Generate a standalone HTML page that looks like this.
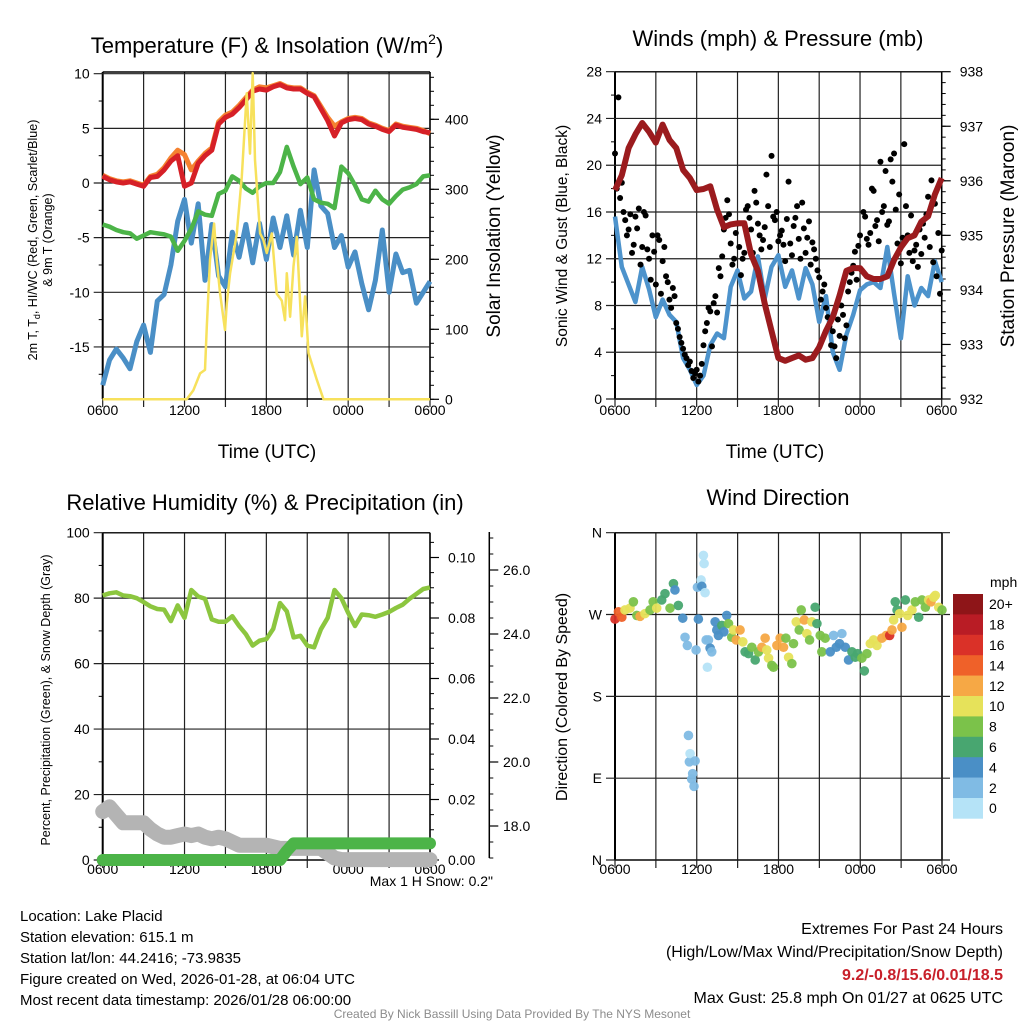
<!DOCTYPE html>
<html><head><meta charset="utf-8"><style>
html,body{margin:0;padding:0;background:#fff;}
svg{display:block;font-family:"Liberation Sans",Arial,sans-serif;}
</style></head><body>
<svg id="chart" xmlns="http://www.w3.org/2000/svg" width="1024" height="1024" viewBox="0 0 1024 1024">
<rect x="0" y="0" width="1024" height="1024" fill="#fff"/>
<g id="texts" fill="#000">
<text x="267" y="53" font-size="22" text-anchor="middle">Temperature (F) &amp; Insolation (W/m<tspan dy="-9" font-size="14">2</tspan><tspan dy="9">)</tspan></text>
<text x="778" y="46" font-size="22" text-anchor="middle">Winds (mph) &amp; Pressure (mb)</text>
<text x="265" y="510" font-size="22" text-anchor="middle">Relative Humidity (%) &amp; Precipitation (in)</text>
<text x="778" y="505" font-size="22" text-anchor="middle">Wind Direction</text>
<text x="267" y="458" font-size="19" text-anchor="middle">Time (UTC)</text>
<text x="775" y="458" font-size="19" text-anchor="middle">Time (UTC)</text>
<text x="37" y="240" font-size="12.5" text-anchor="middle" transform="rotate(-90 37 240)">2m T, T<tspan dy="3" font-size="9">d</tspan><tspan dy="-3">, HI/WC (Red, Green, Scarlet/Blue)</tspan></text>
<text x="52" y="240" font-size="12.5" text-anchor="middle" transform="rotate(-90 52 240)">&amp; 9m T (Orange)</text>
<text x="500" y="236" font-size="19" text-anchor="middle" transform="rotate(-90 500 236)">Solar Insolation (Yellow)</text>
<text x="567" y="236" font-size="15.5" text-anchor="middle" transform="rotate(-90 567 236)">Sonic Wind &amp; Gust (Blue, Black)</text>
<text x="1014" y="236" font-size="19" text-anchor="middle" transform="rotate(-90 1014 236)">Station Pressure (Maroon)</text>
<text x="50" y="700" font-size="12.5" text-anchor="middle" transform="rotate(-90 50 700)">Percent, Precipitation (Green), &amp; Snow Depth (Gray)</text>
<text x="567" y="697" font-size="16" text-anchor="middle" transform="rotate(-90 567 697)">Direction (Colored By Speed)</text>
<text x="493" y="886" font-size="14" text-anchor="end">Max 1 H Snow: 0.2"</text>
<g font-size="15">
<text x="20" y="921">Location: Lake Placid</text>
<text x="20" y="942">Station elevation: 615.1 m</text>
<text x="20" y="963">Station lat/lon: 44.2416; -73.9835</text>
<text x="20" y="984">Figure created on Wed, 2026-01-28, at 06:04 UTC</text>
<text x="20" y="1005">Most recent data timestamp: 2026/01/28 06:00:00</text>
</g>
<g font-size="16" text-anchor="end">
<text x="1003" y="934">Extremes For Past 24 Hours</text>
<text x="1003" y="957">(High/Low/Max Wind/Precipitation/Snow Depth)</text>
<text x="1003" y="980" fill="#c8202a" font-weight="bold">9.2/-0.8/15.6/0.01/18.5</text>
<text x="1003" y="1003">Max Gust: 25.8 mph On 01/27 at 0625 UTC</text>
</g>
<text x="512" y="1018" font-size="12" fill="#8c8c8c" text-anchor="middle">Created By Nick Bassill Using Data Provided By The NYS Mesonet</text>
<text x="990" y="587" font-size="14">mph</text>
</g>
</svg>
<script>
// ---- data (half-hour steps from 0600 UTC unless noted) ----
const timeLabels = ["0600","1200","1800","0000","0600"];
const tempRed = [0.6,0.3,0.1,0.0,0.1,-0.1,-0.3,0.5,0.6,1.2,2.0,2.5,-0.3,0.0,1.8,2.5,3.0,5.4,6.0,6.3,6.9,7.6,8.4,8.6,8.5,8.8,9.0,8.7,8.6,8.6,8.2,7.9,6.8,5.7,4.3,5.5,5.8,5.9,5.8,5.4,5.2,4.9,4.7,5.3,5.1,5.0,4.9,4.7,4.6];
const temp9m = [0.7,0.4,0.2,0.1,0.2,0.0,-0.2,0.6,0.8,1.4,2.3,3.0,2.6,1.2,2.0,2.7,3.2,5.6,6.2,6.5,7.1,7.8,8.5,8.8,8.7,8.9,9.1,8.8,8.7,8.7,8.3,8.0,7.0,6.0,5.2,5.6,5.9,6.0,5.9,5.5,5.3,5.0,4.8,5.4,5.2,5.1,5.0,4.8,4.5];
const dewGreen = [-3.8,-4.0,-4.3,-4.5,-4.6,-5.1,-4.8,-4.5,-4.6,-4.7,-4.9,-6.2,-5.3,-4.2,-2.6,-2.9,-3.0,-1.0,-0.7,0.6,0.2,-0.5,-0.9,-0.3,0.0,0.0,1.0,3.3,1.5,-0.1,0.5,-1.5,-1.8,-1.9,-2.3,1.5,0.9,-0.2,-1.5,-1.7,-0.7,-1.5,-1.9,-1.2,-0.6,-0.4,-0.1,0.6,0.7];
const windChill = [-18.5,-16.2,-15.2,-16.0,-17.0,-14.5,-13.0,-15.5,-10.8,-10.2,-7.5,-3.5,-1.5,-5.5,-1.9,-8.9,-3.8,-8.5,-9.5,-4.5,-6.8,-3.8,-7.3,-3.7,-7.0,-3.2,-5.9,-3.0,-6.6,-2.5,-5.9,1.2,-2.1,-2.8,-5.9,-4.8,-7.7,-6.3,-9.2,-11.6,-8.9,-4.3,-10.0,-6.5,-8.2,-8.0,-11.0,-10.0,-9.0];
const insolTime = [0,6.16,6.65,7.14,7.5,7.63,7.87,8.17,8.36,8.61,8.97,9.1,9.34,9.83,10.2,10.56,10.8,11.0,11.17,11.54,11.78,12.03,12.4,12.76,13.13,13.37,13.5,13.74,13.99,14.23,14.6,14.84,15.09,15.7,16.19,24];
const insolValue = [0,0,13,37,42,104,199,251,199,151,99,137,180,237,318,437,351,466,342,237,228,209,237,151,141,113,180,118,190,232,90,147,66,28,0,0];
const pressure = [935.83,936.1,936.6,936.85,937.06,936.9,936.7,937.03,936.75,936.6,936.2,936.05,935.83,935.85,935.9,935.47,935.15,935.2,935.22,935.22,934.65,934.35,933.75,933.25,932.75,932.7,932.75,932.8,932.72,932.75,932.95,933.25,933.5,933.9,934.35,934.4,934.4,934.25,934.2,934.2,934.25,934.55,934.78,934.95,935.0,935.25,935.35,935.75,936.05];
const windSpeed = [15.6,11.3,9.8,8.3,11.3,9.4,7.0,8.5,7.2,6.6,3.5,2.5,1.2,2.0,4.6,5.6,5.2,9.6,11.0,8.6,9.2,12.2,8.6,11.3,12.3,9.6,11.0,8.6,11.2,9.8,6.6,8.8,4.0,2.5,5.5,7.2,9.3,9.8,10.0,9.5,13.0,9.0,5.2,10.5,8.0,9.5,8.8,11.8,10.0];
// gusts at 15-min steps
const gustA = [21.0,25.8,18.5,15.3,14.5,12.5,15.6,16.3,13.0,15.7,12.0,14.0,9.8,13.6,11.8,10.5,8.5,9.5,6.5,5.3,4.3,3.5,3.2,1.8,2.5,2.0,4.6,6.5,7.5,8.2,7.4,10.5,14.5,17.0,13.3,12.0,15.0,10.6,12.5,16.5,14.5,17.8,15.0,12.8,14.7,16.5,20.8,15.3,13.5,14.4,11.8,18.6,12.3,15.5,13.7,16.8,12.5,15.2,13.4,12.0,10.4,9.2,7.8,6.2,5.8,3.5,5.4,7.2,6.3,10.0,11.4,10.2,14.0,16.0,13.7,14.2,17.8,15.3,20.3,16.5,14.9,20.5,21.0,13.3,11.6,21.8,14.0,15.7,12.7,11.3,12.4,13.8,17.3,18.7,16.7,14.2,12.7];
// gusts at 15-min steps offset by 7.5 min
const gustB = [18.0,17.2,16.0,14.0,15.8,13.2,14.6,11.5,16.0,12.8,10.2,12.6,14.0,9.0,13.0,10.0,7.8,8.8,6.0,4.8,3.8,2.9,2.4,2.2,1.5,3.0,5.8,7.8,4.5,8.8,11.2,12.2,15.5,15.8,11.5,14.2,13.0,12.0,16.2,15.5,12.5,16.8,14.0,13.6,19.2,13.0,15.6,16.0,14.0,13.2,15.4,13.3,14.8,16.5,12.0,14.6,13.8,11.5,12.8,11.0,8.5,9.8,7.0,4.6,4.5,6.8,8.0,5.2,9.2,10.8,12.6,13.1,11.0,15.6,13.2,18.0,14.8,13.5,16.0,19.5,15.2,18.6,16.2,17.5,13.8,16.5,12.5,11.8,13.2,14.5,15.0,15.8,13.0,11.7,10.5,9.0];
const relHum = [80.8,81.5,81.8,80.8,80.6,80.0,78.8,77.5,76.7,76.5,73.0,77.8,74.0,82.5,80.5,79.8,73.5,72.8,72.8,74.5,71.5,69.0,65.5,67.0,67.5,70.6,78.5,76.0,68.0,68.5,65.5,65.0,70.5,74.0,82.5,80.0,75.5,71.5,75.0,74.8,74.3,75.0,75.8,77.0,78.0,79.8,81.3,82.8,83.3];
const precip = [0,0,0,0,0,0,0,0,0,0,0,0,0,0,0,0,0,0,0,0,0,0,0,0,0,0,0,0.003,0.0055,0.0055,0.0055,0.0055,0.0055,0.0055,0.0055,0.0055,0.0055,0.0055,0.0055,0.0055,0.0055,0.0055,0.0055,0.0055,0.0055,0.0055,0.0055,0.0055,0.0055];
const snowDepth = [18.45,18.6,18.35,18.1,18.1,18.1,18.1,17.9,17.75,17.65,17.65,17.7,17.75,17.7,17.75,17.65,17.6,17.65,17.6,17.5,17.4,17.4,17.4,17.4,17.4,17.35,17.3,17.3,17.3,17.3,17.3,17.3,17.3,17.15,17.0,16.95,16.95,16.95,16.95,16.95,16.95,16.95,16.95,16.95,16.95,16.95,16.95,16.95,16.95];
// wind direction observations: hours since 0600, degrees, mph
const dirTime = [0,0.25,0.5,0.73,1.1,1.35,1.6,1.84,2.2,2.57,2.8,3.06,3.43,3.67,4.04,4.29,4.4,4.65,4.97,5.14,5.31,5.39,5.46,5.51,5.63,5.7,5.8,5.88,5.95,6.05,6.12,6.32,6.37,6.49,6.54,6.61,6.69,6.78,6.86,6.98,7.1,7.35,7.47,7.59,7.84,7.99,8.2,8.33,8.57,8.7,8.9,9.18,9.38,9.55,9.8,10.04,10.29,10.53,10.78,11.02,11.14,11.27,11.51,11.63,11.88,12.12,12.37,12.54,12.74,12.98,13.1,13.3,13.52,13.67,13.89,14.08,14.28,14.45,14.69,14.82,15.06,15.18,15.43,15.8,16.04,16.24,16.48,16.65,16.9,17.14,17.39,17.63,17.8,18.12,18.3,18.49,18.74,18.98,19.23,19.59,19.91,20.16,20.33,20.45,20.57,20.7,20.89,21.06,21.31,21.48,21.8,22.04,22.29,22.53,22.78,23.02,23.19,23.39,23.51,23.76,24.0];
const dirDeg = [265,273,267,275,277,284,269,268,271,275,284,277,286,293,277,304,297,280,266,245,236,137,108,117,89,95,81,109,231,300,265,308,301,335,326,294,242,212,242,233,229,262,253,247,258,251,269,260,245,253,242,253,240,229,227,234,220,229,234,244,231,222,214,212,236,244,234,244,223,216,238,262,253,275,264,249,242,262,278,260,247,229,244,229,247,234,238,249,234,220,229,223,227,222,208,227,238,242,236,244,247,247,253,264,284,275,271,256,286,269,275,284,267,286,278,286,284,289,291,278,275];
const dirSpeed = [17,15,14,10,10,8,9,12,11,9,8,10,6,7,8,7,5,7,5,2,2,2,2,1,3,3,3,3,2,2,4,1,4,0,1,1,2,1,2,4,3,4,4,4,6,4,5,8,8,10,12,12,10,7,6,8,6,8,12,12,10,10,8,8,12,12,12,8,10,8,8,10,8,8,12,10,8,10,6,6,8,8,8,4,3,4,4,3,4,4,6,6,7,8,7,8,10,10,10,12,12,16,12,10,6,6,10,12,6,10,10,8,6,8,8,10,12,10,10,10,8];
const speedBinLabels = ["20+","18","16","14","12","10","8","6","4","2","0"];
const speedBinColors = ["#8e1518","#b91c25","#da3128","#ef6129","#f6a845","#e6e25a","#7bc24a","#48a670","#4a8fc6","#80bbe4","#b5e3f7"];

const NS = 'http://www.w3.org/2000/svg';
const svg = document.getElementById('chart');
function mk(tag, attrs, name, parent) {
  const el = document.createElementNS(NS, tag);
  for (const k in attrs) el.setAttribute(k, attrs[k]);
  
  
  (parent || svg).appendChild(el);
  return el;
}
function txt(x, y, s, anchor, size, name) {
  const t = mk('text', {x: x, y: y, 'text-anchor': anchor, 'font-size': size, fill: '#000'}, name);
  t.textContent = s;
  return t;
}
function lin(d0, d1, r0, r1) { return v => r0 + (v - d0) / (d1 - d0) * (r1 - r0); }
function pathFrom(ts, vs, fx, fy) {
  return ts.map((t, i) => (i ? 'L' : 'M') + fx(t).toFixed(1) + ' ' + fy(vs[i]).toFixed(1)).join(' ');
}
const halfHours = relHum.map((_, i) => i * 0.5);

function frame(L, R, T, B, key, labOff) {
  const g = mk('g', {}, key + '-grid');
  for (let h = 0; h <= 24; h += 3) {
    const x = lin(0, 24, L, R)(h);
    mk('line', {x1: x, x2: x, y1: T, y2: B + 8, stroke: '#222', 'stroke-width': 1.2}, key + '-vertical-gridline', g);
  }
  timeLabels.forEach((s, i) => txt(lin(0, 24, L, R)(i * 6), B + labOff, s, 'middle', 14, key + '-x-tick-label'));
  mk('line', {x1: L, x2: R, y1: T, y2: T, stroke: '#000', 'stroke-width': 1.5}, key + '-top-border', g);
  mk('line', {x1: L, x2: R, y1: B, y2: B, stroke: '#000', 'stroke-width': 1.5}, key + '-bottom-border', g);
  mk('line', {x1: L, x2: L, y1: T, y2: B, stroke: '#000', 'stroke-width': 2}, key + '-left-axis', g);
  mk('line', {x1: R, x2: R, y1: T, y2: B, stroke: '#000', 'stroke-width': 1.5}, key + '-right-axis', g);
}
function leftAxis(L, R, fy, majors, labels, minorStart, minorEnd, minorStep, key, grid) {
  majors.forEach((v, i) => {
    const y = fy(v);
    mk('line', {x1: L - 9, x2: grid ? R : L, y1: y, y2: y, stroke: '#222', 'stroke-width': 1.2}, key + '-left-major-tick', svg);
    txt(L - 13, y + 5, labels[i], 'end', 14, key + '-left-tick-label');
  });
  for (let v = minorStart; v <= minorEnd + 1e-9; v += minorStep) {
    const y = fy(v);
    mk('line', {x1: L - 4, x2: L, y1: y, y2: y, stroke: '#000', 'stroke-width': 1}, key + '-left-minor-tick', svg);
  }
}
function rightAxis(X, fy, majors, labels, minorStart, minorEnd, minorStep, key, labX) {
  majors.forEach((v, i) => {
    const y = fy(v);
    mk('line', {x1: X, x2: X + 9, y1: y, y2: y, stroke: '#000', 'stroke-width': 1.2}, key + '-right-major-tick', svg);
    txt(labX, y + 5, labels[i], 'start', 14, key + '-right-tick-label');
  });
  for (let v = minorStart; v <= minorEnd + 1e-9; v += minorStep) {
    const y = fy(v);
    mk('line', {x1: X, x2: X + 4, y1: y, y2: y, stroke: '#000', 'stroke-width': 1}, key + '-right-minor-tick', svg);
  }
}

// ---------- Panel 1: temperature ----------
(function () {
  const L = 102.7, R = 430, T = 72, B = 399;
  const fx = lin(0, 24, L, R), fy = lin(0, 10, 183, 73.7), fs = lin(0, 400, 399.3, 119.3);
  frame(L, R, T, B, 'temperature', 16);
  leftAxis(L, R, fy, [10, 5, 0, -5, -10, -15], ['10', '5', '0', '-5', '-10', '-15'], -17.5, 7.5, 5, 'temperature', true);
  rightAxis(R, fs, [0, 100, 200, 300, 400], ['0', '100', '200', '300', '400'], 0, 460, 20, 'insolation', R + 15);
  mk('path', {d: pathFrom(halfHours, windChill, fx, fy), fill: 'none', stroke: '#4a8fc6', 'stroke-width': 5, 'stroke-linejoin': 'round'}, 'wind-chill-line');
  mk('path', {d: pathFrom(halfHours, dewGreen, fx, fy), fill: 'none', stroke: '#4cb448', 'stroke-width': 4.5, 'stroke-linejoin': 'round'}, 'dewpoint-line');
  mk('path', {d: pathFrom(halfHours, temp9m, fx, fy), fill: 'none', stroke: '#f58230', 'stroke-width': 5, 'stroke-linejoin': 'round'}, 'temperature-9m-line');
  mk('path', {d: pathFrom(halfHours, tempRed, fx, fy), fill: 'none', stroke: '#d62027', 'stroke-width': 5, 'stroke-linejoin': 'round'}, 'temperature-2m-line');
  mk('path', {d: pathFrom(insolTime, insolValue, fx, fs), fill: 'none', stroke: '#f7e15c', 'stroke-width': 2.5, 'stroke-linejoin': 'round'}, 'insolation-line');
})();

// ---------- Panel 2: winds & pressure ----------
(function () {
  const L = 615, R = 941.7, T = 71.7, B = 399;
  const fx = lin(0, 24, L, R), fy = lin(0, 28, 399, 71.7), fp = lin(932, 938, 399, 71.7);
  frame(L, R, T, B, 'winds', 16);
  leftAxis(L, R, fy, [0, 4, 8, 12, 16, 20, 24, 28], ['0', '4', '8', '12', '16', '20', '24', '28'], 2, 26, 4, 'winds', true);
  rightAxis(R, fp, [932, 933, 934, 935, 936, 937, 938], ['932', '933', '934', '935', '936', '937', '938'], 932.2, 937.8, 0.2, 'pressure', R + 18);
  mk('path', {d: pathFrom(halfHours, windSpeed, fx, fy), fill: 'none', stroke: '#4d93cc', 'stroke-width': 4.5, 'stroke-linejoin': 'round'}, 'wind-speed-line');
  gustA.forEach((v, i) => {
    const c = mk('circle', {cx: fx(i * 0.25), cy: fy(v), r: 3, fill: '#000'}, 'gust-point');
  });
  gustB.forEach((v, i) => {
    const c = mk('circle', {cx: fx(i * 0.25 + 0.125), cy: fy(v), r: 3, fill: '#000'}, 'gust-point');
  });
  mk('path', {d: pathFrom(halfHours, pressure, fx, fp), fill: 'none', stroke: '#9b1b1e', 'stroke-width': 6, 'stroke-linejoin': 'round'}, 'pressure-line');
})();

// ---------- Panel 3: RH, precip, snow ----------
(function () {
  const L = 102.7, R = 430, T = 532.7, B = 860;
  const fx = lin(0, 24, L, R), fy = lin(0, 100, 860, 532.7), fpr = lin(0, 0.1, 860, 557.5), fsn = lin(18, 26, 826, 570);
  frame(L, R, T, B, 'humidity', 14);
  leftAxis(L, R, fy, [0, 20, 40, 60, 80, 100], ['0', '20', '40', '60', '80', '100'], 10, 90, 20, 'humidity', true);
  rightAxis(R, fpr, [0, 0.02, 0.04, 0.06, 0.08, 0.1], ['0.00', '0.02', '0.04', '0.06', '0.08', '0.10'], 0.005, 0.105, 0.005, 'precip', R + 18);
  mk('line', {x1: 489.3, x2: 489.3, y1: 532, y2: 858, stroke: '#000', 'stroke-width': 1.5}, 'snow-axis-line');
  rightAxis(489.3, fsn, [18, 20, 22, 24, 26], ['18.0', '20.0', '22.0', '24.0', '26.0'], 17, 27, 0.5, 'snow', 503);
  mk('path', {d: pathFrom(halfHours, snowDepth, fx, fsn), fill: 'none', stroke: '#b4b4b4', 'stroke-width': 15, 'stroke-linecap': 'round', 'stroke-linejoin': 'round'}, 'snow-depth-line');
  mk('path', {d: pathFrom(halfHours, precip, fx, fpr), fill: 'none', stroke: '#4cb448', 'stroke-width': 12, 'stroke-linecap': 'round', 'stroke-linejoin': 'round'}, 'precipitation-line');
  mk('path', {d: pathFrom(halfHours, relHum, fx, fy), fill: 'none', stroke: '#8cc63f', 'stroke-width': 4.5, 'stroke-linejoin': 'round'}, 'relative-humidity-line');
})();

// ---------- Panel 4: wind direction ----------
(function () {
  const L = 615, R = 942, T = 532.7, B = 860;
  const fx = lin(0, 24, L, R), fy = lin(0, 360, 860, 532.7);
  frame(L, R, T, B, 'direction', 14);
  leftAxis(L, R + 8, fy, [0, 90, 180, 270, 360], ['N', 'E', 'S', 'W', 'N'], 0, -1, 90, 'direction', true);
  dirTime.forEach((t, i) => {
    const bin = Math.min(10, Math.floor(dirSpeed[i] / 2));
    const c = mk('circle', {cx: fx(t), cy: fy(dirDeg[i]), r: 4.8, fill: speedBinColors[10 - bin], 'fill-opacity': 0.95}, 'direction-point');
  });
  const top = 594, h = 20.4;
  speedBinLabels.forEach((s, i) => {
    mk('rect', {x: 953, y: top + i * h, width: 30, height: h + 0.3, fill: speedBinColors[i]}, 'colorbar-swatch');
    txt(989, top + i * h + h / 2 + 5, s, 'start', 14, 'colorbar-label');
  });
})();
</script>
</body></html>
